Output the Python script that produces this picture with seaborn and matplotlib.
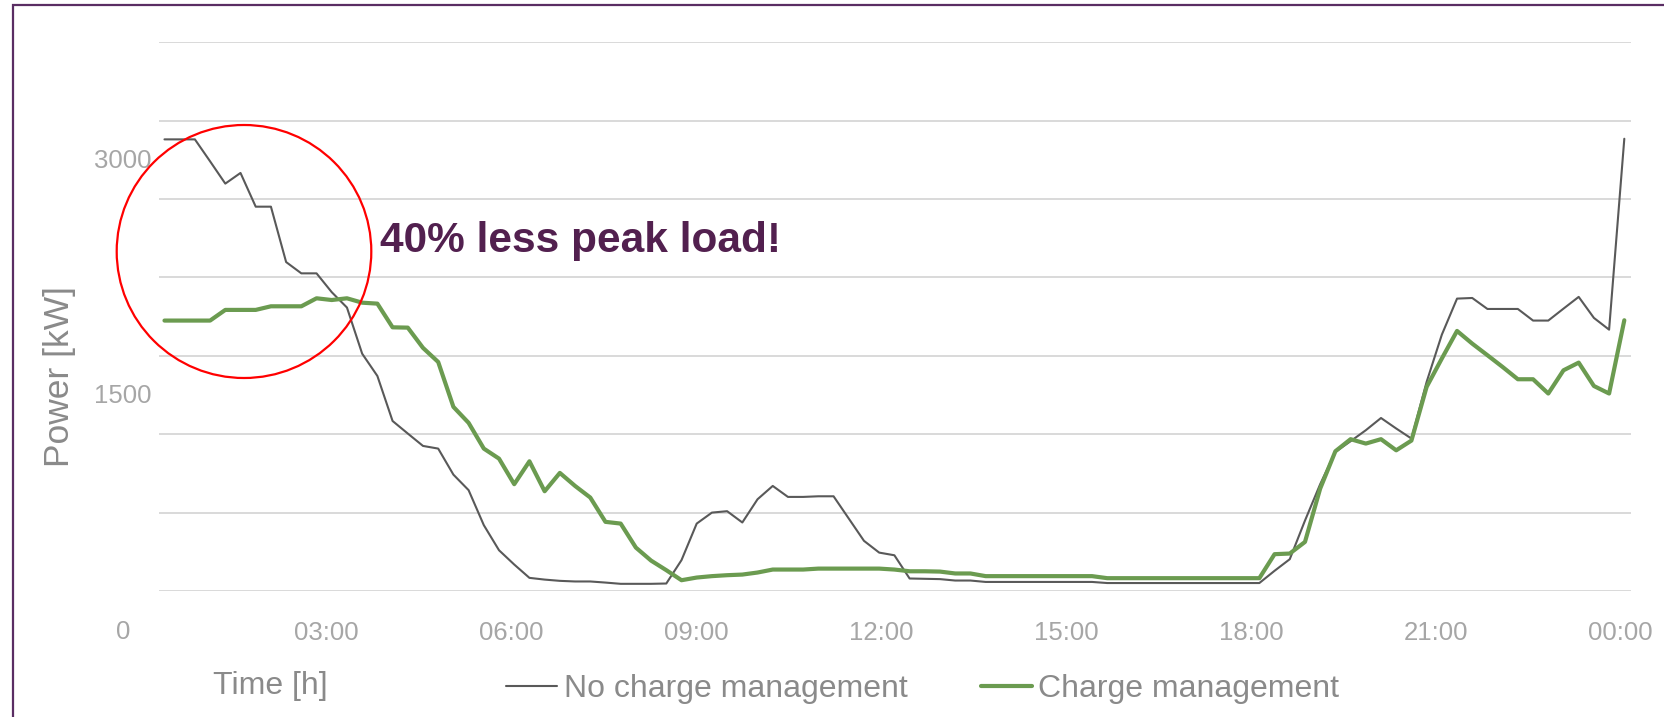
import numpy as np
import pandas as pd
import matplotlib
matplotlib.use("Agg")
import matplotlib.pyplot as plt
import matplotlib.transforms as mtransforms
from matplotlib.patches import Ellipse, Rectangle
from matplotlib.lines import Line2D
import seaborn as sns

# ---------------- data (quarter-hour values, 00:00 .. 24:00) ----------------
no_charge_mgmt = [
    2880, 2880, 2880, 2740, 2598, 2666, 2451, 2451, 2098, 2026, 2026, 1906, 1808, 1514, 1372, 1085,
    1005, 926, 909, 743, 644, 421, 261, 170, 85, 74, 66, 62, 62, 55, 47, 47,
    47, 49, 198, 431, 501, 510, 438, 586, 671, 601, 601, 605, 605, 463, 321, 246,
    229, 81, 79, 77, 68, 68, 59, 59, 59, 59, 59, 59, 59, 59, 52, 52,
    52, 52, 52, 52, 52, 52, 52, 52, 52, 130, 204, 450, 682, 888, 956, 1026,
    1104, 1037, 973, 1334, 1635, 1865, 1869, 1799, 1799, 1799, 1725, 1725, 1801, 1876, 1742, 1667,
    2884,
]
charge_mgmt = [
    1725, 1725, 1725, 1725, 1793, 1793, 1793, 1816, 1816, 1816, 1867, 1856, 1867, 1839, 1833, 1682,
    1680, 1551, 1461, 1175, 1073, 909, 845, 682, 828, 637, 754, 671, 597, 442, 431, 278,
    195, 134, 70, 87, 96, 102, 106, 119, 138, 138, 138, 144, 144, 144, 144, 144,
    138, 127, 127, 125, 113, 113, 96, 96, 96, 96, 96, 96, 96, 96, 83, 83,
    83, 83, 83, 83, 83, 83, 83, 83, 83, 236, 240, 314, 654, 892, 969, 941,
    969, 898, 960, 1302, 1483, 1659, 1578, 1504, 1429, 1351, 1351, 1260, 1408, 1457, 1308, 1260,
    1727,
]
hours = np.arange(len(no_charge_mgmt)) * 0.25

series_names = ["No charge management", "Charge management"]
x_tick_labels = ["03:00", "06:00", "09:00", "12:00", "15:00", "18:00", "21:00", "00:00"]
x_tick_pos = [2.66, 5.70, 8.74, 11.78, 14.82, 17.86, 20.90, 23.94]
y_tick_values = [0, 1500, 3000]
y_grid_values = np.arange(0, 3501, 500)
annotation = "40% less peak load!"

df = pd.DataFrame({
    "Time": np.concatenate([hours, hours]),
    "Power": np.concatenate([no_charge_mgmt, charge_mgmt]),
    "Series": [series_names[0]] * len(hours) + [series_names[1]] * len(hours),
})

# ---------------- style ----------------
sns.set_theme(style="white")
plt.rcParams["font.family"] = ["Liberation Sans", "DejaVu Sans"]

GRAY = "#595959"
GREEN = "#6b9b50"
TICK_C = "#a6a6a6"
LABEL_C = "#8a8a8a"
PURPLE = "#52204f"

W, H = 1664, 717
fig = plt.figure(figsize=(W / 100, H / 100), dpi=100)
ax = fig.add_axes([159 / W, 1 - 591.2 / H, 1472 / W, 549.1 / H])

sns.lineplot(data=df[df.Series == series_names[0]], x="Time", y="Power", color=GRAY,
             linewidth=1.5, ax=ax, legend=False)
sns.lineplot(data=df[df.Series == series_names[1]], x="Time", y="Power", color=GREEN,
             linewidth=3.0, ax=ax, legend=False)

ax.set_xlim(-0.09, 24.11)
ax.set_ylim(0, 3500)

for s in ax.spines.values():
    s.set_visible(False)

# gridlines
ax.set_yticks(y_grid_values, minor=True)
ax.grid(True, which="both", axis="y", color="#d9d9d9", linewidth=1.4)
ax.grid(False, which="both", axis="x")
ax.tick_params(which="minor", length=0)
ax.set_axisbelow(True)

# y tick labels (shifted downward like in the reference)
ax.set_yticks(y_tick_values)
ax.set_yticklabels([str(v) for v in y_tick_values])
ax.tick_params(axis="y", which="major", length=0, pad=26, labelsize=18.5, labelcolor=TICK_C)
offset = mtransforms.ScaledTranslation(0, -38 / 100, fig.dpi_scale_trans)
for lab in ax.get_yticklabels():
    lab.set_horizontalalignment("center")
    lab.set_transform(lab.get_transform() + offset)

# x tick labels
ax.set_xticks(x_tick_pos)
ax.set_xticklabels(x_tick_labels)
ax.tick_params(axis="x", length=0, pad=21.5, labelsize=18.5, labelcolor=TICK_C)

# axis labels
ax.set_xlabel("Time [h]", fontsize=23, color=LABEL_C)
ax.xaxis.label.set_va("center")
ax.xaxis.set_label_coords((270.5 - 159) / 1472, (591.2 - 686) / 549.1)
ax.set_ylabel("Power [kW]", fontsize=25.5, color=LABEL_C)
ax.yaxis.label.set_va("center")
ax.yaxis.set_label_coords((59.5 - 159) / 1472, (591.2 - 377) / 549.1)

# legend
handles = [Line2D([], [], color=GRAY, lw=1.5), Line2D([], [], color=GREEN, lw=3.0)]
leg = ax.legend(handles, series_names, loc="center left",
                bbox_to_anchor=(506 / W, 1 - 689 / H), bbox_transform=fig.transFigure,
                ncol=2, frameon=False, fontsize=23, handlelength=1.6, handletextpad=0.2,
                columnspacing=2.3, borderaxespad=0, borderpad=0, labelcolor=LABEL_C)

# annotation
fig.text(380 / W, 1 - 251.7 / H, annotation, fontsize=30.5, fontweight="bold",
         color=PURPLE, ha="left", va="baseline")
fig.add_artist(Ellipse((244 / W, 1 - 251.5 / H), width=254.6 / W, height=253 / H,
                       transform=fig.transFigure, fill=False, edgecolor="#ff0000", lw=1.6))

# purple frame (left and top edges visible)
fig.add_artist(Rectangle((12.7 / W, -0.2), 2.0, 1.2 - 5.3 / H, transform=fig.transFigure,
                         fill=False, edgecolor="#5a2d63", lw=1.6, clip_on=False))

fig.savefig("out.png", dpi=100)
